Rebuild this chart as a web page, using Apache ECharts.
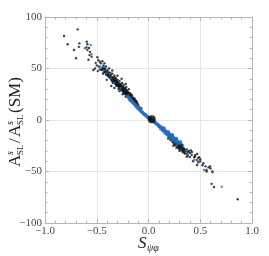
<!DOCTYPE html>
<html>
<head>
<meta charset="utf-8">
<script src="https://cdn.jsdelivr.net/npm/echarts@6/dist/echarts.min.js"></script>
<style>html,body{margin:0;padding:0;background:#fff}#c{width:269px;height:256px}</style>
</head>
<body>
<div id="c"></div>
<script>
var xTicks = [-1.0, -0.5, 0.0, 0.5, 1.0];
var yTicks = [-100, -50, 0, 50, 100];

var blackPoints = [
[-0.816,81.6],[-0.684,88],[-0.781,73.5],[-0.72,68],[-0.668,74.4],[-0.672,71],[-0.70,60],[-0.597,76],[-0.59,73.5],[-0.59,68],
[-0.565,66],[-0.57,63],[-0.55,61.5],[-0.494,61],[-0.485,58],[-0.469,56.6],[-0.50,53],[-0.533,48.5],[-0.517,50],[-0.436,53],
[-0.41,52],[-0.452,48.5],[-0.42,47],[-0.404,39],[-0.60,70.5],[-0.575,70],[-0.58,58.5],[-0.48,52],[-0.47,49],[-0.46,55],
[-0.445,57],[-0.43,51],[-0.425,55],[-0.51,55.5],[-0.49,47.5],[-0.44,45],[-0.395,48],[-0.39,44],[-0.38,50],[-0.37,46],
[-0.36,42],[-0.355,38],[-0.35,45],[-0.34,40],[-0.345,36],[-0.33,43],[-0.325,38],[-0.32,35],[-0.315,40],[-0.31,33],
[-0.305,37],[-0.30,39],[-0.295,34],[-0.29,36],[-0.285,31],[-0.28,38],[-0.275,33],[-0.27,35],[-0.265,30],[-0.26,33],
[-0.255,36],[-0.25,29],[-0.245,32],[-0.24,34],[-0.235,28],[-0.23,31],[-0.225,27],[-0.22,30],[-0.215,32],[-0.21,26],
[-0.205,29],[-0.20,24],[-0.195,27],[-0.19,30],[-0.185,23],[-0.18,26],[-0.175,22],[-0.17,25],[-0.165,21],[-0.16,24],
[-0.155,19],[-0.15,22],[-0.145,20],[-0.14,18],[-0.135,21],[-0.13,17],[-0.125,19],[-0.12,15],[-0.115,18],[-0.11,14],
[-0.10,15],[-0.09,13],[-0.07,11.5],
[-0.33,39],[-0.32,41],[-0.31,36],[-0.30,36.5],[-0.29,33],[-0.28,35],[-0.27,32],[-0.26,31],[-0.25,31.5],[-0.24,30],
[-0.23,29],[-0.22,27.5],[-0.21,28],[-0.20,26.5],[-0.19,25.5],[-0.18,24],[-0.17,23],[-0.16,21.5],[-0.15,20.5],[-0.14,19.5],
[-0.13,19],[-0.12,17.5],[-0.11,16.5],[-0.36,33],[-0.33,31],[-0.28,28],[-0.25,25],[-0.22,22.5],[-0.18,19],
[-0.35,48],[-0.30,43],[-0.26,40],[-0.22,35],
[-0.44,50],[-0.43,46],[-0.42,49.5],[-0.41,44],[-0.40,47],[-0.39,42.5],[-0.385,46],[-0.375,41],[-0.365,44],[-0.36,39.5],
[-0.35,41.5],[-0.34,37.5],[-0.335,41],[-0.325,36],[-0.315,37.5],[-0.305,34.5],[-0.295,36.5],[-0.285,33.5],[-0.275,31],[-0.265,33],
[-0.255,29.5],[-0.245,29],[-0.235,30.5],[-0.225,25.5],[-0.215,26.5],[-0.205,24.5],[-0.31,38.5],[-0.27,34],[-0.29,30],[-0.24,26.5],
[0.10,-6.5],[0.14,-9.5],[0.16,-11.5],[0.18,-13],[0.19,-15],[0.20,-14.5],
[0.20,-17],[0.21,-16],[0.21,-19.5],[0.22,-17.5],[0.23,-19],[0.23,-21],[0.24,-18.5],[0.24,-22],[0.25,-20],
[0.25,-23.5],[0.26,-21],[0.26,-24.5],[0.27,-22],[0.28,-23.5],[0.28,-26],[0.29,-24],[0.29,-28],[0.30,-25],
[0.30,-30],[0.31,-26.5],[0.31,-29],[0.32,-27],[0.32,-24.5],[0.33,-28.5],[0.33,-31],[0.34,-27.5],[0.34,-30],
[0.35,-29],[0.35,-32.5],[0.36,-30.5],[0.37,-28.5],[0.37,-33],[0.38,-31],[0.39,-30],[0.40,-32],[0.41,-29.5],[0.42,-31],
[0.38,-35],[0.44,-36],[0.45,-34],[0.465,-38.8],[0.47,-33],[0.48,-41],[0.49,-36],[0.50,-38],[0.52,-44],[0.55,-45],
[0.562,-50],[0.58,-46],[0.60,-47],[0.61,-62],[0.633,-65],[0.862,-77],[0.43,-40],[0.40,-36],[0.27,-27],[0.24,-25],
[0.19,-18],[0.369,-35.6],[0.417,-34],[0.45,-35.6],[0.48,-37],[0.50,-40],[0.47,-43.7],[0.53,-42],[0.594,-45],
[0.56,-48.5],[0.617,-50],
[0.235,-20.5],[0.255,-22],[0.265,-23],[0.285,-25],[0.295,-26.5],[0.305,-27.5],[0.325,-29.5],[0.345,-31.5],[0.355,-30]
];

var blueBandOuter = [
[-0.45,50.5],[-0.44,49],[-0.43,48.5],[-0.42,47],[-0.41,46.5],[-0.40,45],[-0.39,44],[-0.38,43],[-0.37,42],[-0.36,40.5],
[-0.35,39.5],[-0.34,38.5],[-0.33,37],[-0.32,36],[-0.31,35],[-0.30,34],[-0.29,33],[-0.28,32],[-0.27,30.5],[-0.26,29.5],
[-0.25,28.5],[-0.24,27.5],[-0.23,26],[-0.22,25],[-0.21,24],
[0.28,-20.5],[0.29,-21.5],[0.30,-22.5],[0.31,-23],[0.32,-24],[0.33,-25],[0.30,-25],[0.32,-26.5],[0.34,-28],[0.31,-21]
];

var blueBandCore = [
[-0.20,23],[-0.19,21.5],[-0.18,20.5],[-0.17,19.5],[-0.16,18],
[-0.15,17],[-0.14,16],[-0.13,15],[-0.12,13.5],[-0.11,12.5],[-0.10,11.5],[-0.09,10.5],[-0.08,9.5],[-0.07,8.5],[-0.06,7.5],
[-0.05,6.5],[-0.04,5.5],[-0.03,5],[-0.02,4],[-0.01,3],[0.0,2.5],[0.01,1.5],[0.02,1],
[0.04,-0.5],[0.05,-1.5],[0.06,-2],[0.07,-3],[0.08,-4],[0.09,-4.5],[0.10,-5.5],[0.11,-6.5],[0.12,-7],[0.13,-8],
[0.14,-9],[0.15,-9.5],[0.16,-10.5],[0.17,-11.5],[0.18,-12],[0.19,-13],[0.20,-13.5],[0.21,-14.5],[0.22,-15.5],[0.23,-16],
[0.24,-17],[0.25,-18],[0.26,-19],[0.27,-19.5],
[0.12,-8.5],[0.14,-10.5],[0.16,-12.5],[0.18,-14],[0.20,-16],[0.22,-17.5],[0.24,-19.5],[0.26,-21],[0.28,-23],
[0.15,-8],[0.19,-11.5],[0.23,-14.5],[0.27,-18]
];

var blueSparse = [
[-0.558,72.8],[-0.614,69.6],[-0.55,64],[-0.43,51.5],[-0.40,49],[-0.47,52],[0.62,-51],[0.536,-48.5],[0.707,-64.7],
[0.40,-36],[0.44,-38.5],[0.49,-40],[0.38,-33.5],[0.36,-30],[-0.33,36],[-0.27,31],[-0.36,41]
];

var smPoint = [[0.031,0.7]];

var SERIF = '"Liberation Serif","DejaVu Serif",serif';
var frameColor = '#b5b5b5';
var labelColor = '#444';
var BLUE = '#1f6cc4';

function fmtX(v){ return (v < 0 ? '\u2212' : '') + Math.abs(v).toFixed(1); }
function fmtY(v){ return (v < 0 ? '\u2212' : '') + Math.abs(v); }

function baseAxis(min, max, interval, pos, showLabel, fmt, split){
  return {
    type: 'value', min: min, max: max, interval: interval, position: pos,
    axisLine: { show: true, onZero: false, lineStyle: { color: frameColor, width: 1 } },
    axisTick: { show: true, inside: true, length: 4, lineStyle: { color: frameColor } },
    minorTick: { show: true, splitNumber: 5, length: 2.5, lineStyle: { color: frameColor } },
    axisLabel: { show: showLabel, formatter: fmt, fontFamily: SERIF, fontSize: 11, color: labelColor, margin: 3 },
    splitLine: { show: split, lineStyle: { color: '#e6e6e6', width: 1 } }
  };
}

var chart = echarts.init(document.getElementById('c'), null, { renderer: 'canvas' });
chart.setOption({
  animation: false,
  grid: { left: 45, right: 17, top: 17, bottom: 33, containLabel: false },
  xAxis: [
    baseAxis(xTicks[0], xTicks[xTicks.length-1], 0.5, 'bottom', true, fmtX, true),
    baseAxis(xTicks[0], xTicks[xTicks.length-1], 0.5, 'top', false, fmtX, false)
  ],
  yAxis: [
    baseAxis(yTicks[0], yTicks[yTicks.length-1], 50, 'left', true, fmtY, true),
    baseAxis(yTicks[0], yTicks[yTicks.length-1], 50, 'right', false, fmtY, false)
  ],
  series: [
    { type: 'scatter', data: blueBandOuter, symbolSize: 3.4, itemStyle: { color: BLUE }, silent: true, z: 2 },
    { type: 'scatter', data: blackPoints, symbolSize: 2.4, itemStyle: { color: '#111' }, silent: true, z: 3 },
    { type: 'scatter', data: blueBandCore, symbolSize: 3.8, itemStyle: { color: BLUE }, silent: true, z: 4 },
    { type: 'scatter', data: blueSparse, symbolSize: 2.4, itemStyle: { color: BLUE }, silent: true, z: 4 },
    { type: 'scatter', data: smPoint, symbolSize: 8, itemStyle: { color: '#000' }, silent: true, z: 5 }
  ],
  graphic: [
    { type: 'text', left: 138, top: 235, style: { text: 'S', font: 'italic 17px ' + SERIF, fill: '#222' } },
    { type: 'text', left: 147, top: 243, style: { text: '\u03c8\u03c6', font: 'italic 10px ' + SERIF, fill: '#222' } },
    { type: 'group', x: 16, y: 167, rotation: Math.PI / 2, children: [
      { type: 'text', x: 0, y: 0, style: { text: 'A', font: '17px ' + SERIF, fill: '#222', textVerticalAlign: 'middle' } },
      { type: 'text', x: 12, y: -6, style: { text: 's', font: 'italic 10px ' + SERIF, fill: '#222', textVerticalAlign: 'middle' } },
      { type: 'text', x: 12, y: 5, style: { text: 'SL', font: '9px ' + SERIF, fill: '#222', textVerticalAlign: 'middle' } },
      { type: 'text', x: 24, y: 0, style: { text: '/', font: '17px ' + SERIF, fill: '#222', textVerticalAlign: 'middle' } },
      { type: 'text', x: 30, y: 0, style: { text: 'A', font: '17px ' + SERIF, fill: '#222', textVerticalAlign: 'middle' } },
      { type: 'text', x: 42, y: -6, style: { text: 's', font: 'italic 10px ' + SERIF, fill: '#222', textVerticalAlign: 'middle' } },
      { type: 'text', x: 42, y: 5, style: { text: 'SL', font: '9px ' + SERIF, fill: '#222', textVerticalAlign: 'middle' } },
      { type: 'text', x: 54, y: 0, style: { text: '(SM)', font: '17px ' + SERIF, fill: '#222', textVerticalAlign: 'middle' } }
    ]}
  ]
});
</script>
</body>
</html>
